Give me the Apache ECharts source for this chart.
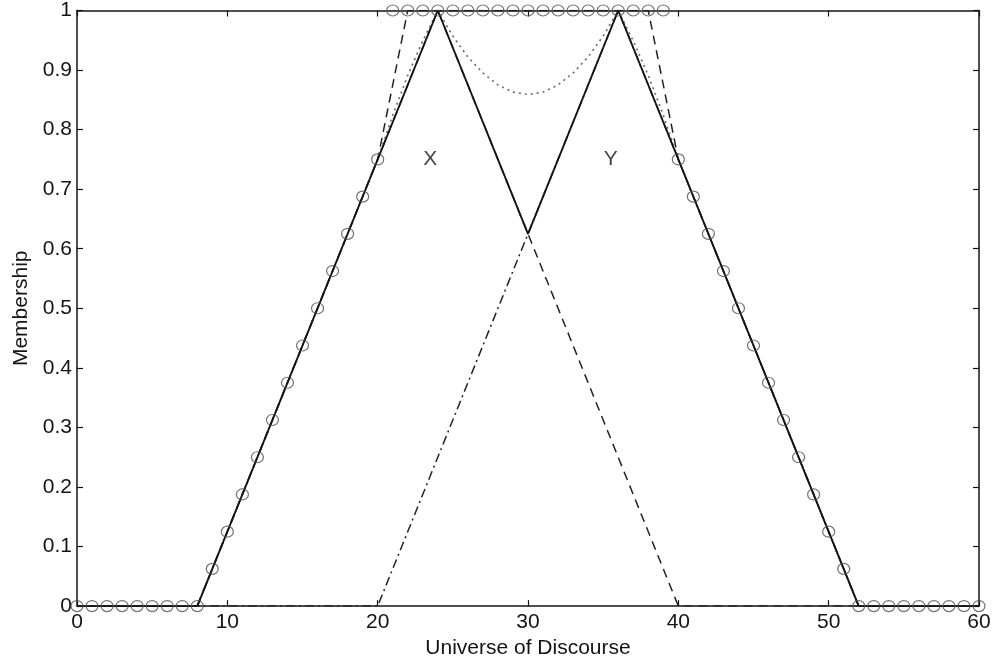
<!DOCTYPE html>
<html>
<head>
<meta charset="utf-8">
<script src="https://cdn.jsdelivr.net/npm/echarts@6/dist/echarts.min.js"></script>
<style>
  html, body { margin: 0; padding: 0; background: #ffffff; }
  #chart { width: 995px; height: 664px; }
</style>
</head>
<body>
<div id="chart"></div>
<script>
// Universe of discourse and tick labels
const xTicks = [0, 10, 20, 30, 40, 50, 60];
const yTickLabels = ['0', '0.1', '0.2', '0.3', '0.4', '0.5', '0.6', '0.7', '0.8', '0.9', '1'];

// Triangular fuzzy sets X and Y (breakpoints)
const setX = [[0, 0], [8, 0], [24, 1], [40, 0], [60, 0]];
const setY = [[0, 0], [20, 0], [36, 1], [52, 0], [60, 0]];

// Max union of X and Y
const unionMax = [[0, 0], [8, 0], [24, 1], [30, 0.625], [36, 1], [52, 0], [60, 0]];

// Bounded sum min(1, X + Y)
const boundedSum = [[0, 0], [8, 0], [20, 0.75], [22, 1], [38, 1], [40, 0.75], [52, 0], [60, 0]];

// Algebraic sum X + Y - XY
const algSumX = [0, 8, 20, 21, 22, 23, 24, 25, 26, 27, 28, 29, 30, 31, 32, 33, 34, 35, 36, 37, 38, 39, 40, 52, 60];
const algSumY = [0, 0, 0.75, 0.824, 0.891, 0.949, 1, 0.957, 0.922, 0.895, 0.875, 0.863, 0.859,
                 0.863, 0.875, 0.895, 0.922, 0.957, 1, 0.949, 0.891, 0.824, 0.75, 0, 0];

// Drastic sum sampled at integer points 0..60
const drasticX = [0, 1, 2, 3, 4, 5, 6, 7, 8, 9, 10, 11, 12, 13, 14, 15, 16, 17, 18, 19, 20,
                  21, 22, 23, 24, 25, 26, 27, 28, 29, 30, 31, 32, 33, 34, 35, 36, 37, 38, 39, 40,
                  41, 42, 43, 44, 45, 46, 47, 48, 49, 50, 51, 52, 53, 54, 55, 56, 57, 58, 59, 60];
const drasticY = [0, 0, 0, 0, 0, 0, 0, 0, 0,
                  0.0625, 0.125, 0.1875, 0.25, 0.3125, 0.375, 0.4375, 0.5, 0.5625, 0.625, 0.6875, 0.75,
                  1, 1, 1, 1, 1, 1, 1, 1, 1, 1, 1, 1, 1, 1, 1, 1, 1, 1, 1,
                  0.75, 0.6875, 0.625, 0.5625, 0.5, 0.4375, 0.375, 0.3125, 0.25, 0.1875, 0.125, 0.0625,
                  0, 0, 0, 0, 0, 0, 0, 0, 0];

// Set name labels
const setLabels = [{ name: 'X', value: [23.5, 0.75] }, { name: 'Y', value: [35.5, 0.75] }];

const FONT = '"Liberation Sans", Arial, sans-serif';
const INK = '#141414';

const zip = (xs, ys) => xs.map((x, i) => [x, ys[i]]);

const baseAxisLine = { show: true, onZero: false, lineStyle: { color: INK, width: 1.5 } };
const baseTick = { show: true, inside: true, length: 6, lineStyle: { color: INK, width: 1.2 } };

const chart = echarts.init(document.getElementById('chart'), null, { renderer: 'canvas' });

chart.setOption({
  backgroundColor: '#ffffff',
  animation: false,
  grid: { left: 77, top: 9, width: 902, height: 600, containLabel: false },
  xAxis: [
    {
      type: 'value', min: xTicks[0], max: xTicks[xTicks.length - 1], interval: 10,
      position: 'bottom',
      name: 'Universe of Discourse', nameLocation: 'middle', nameGap: 27,
      nameTextStyle: { fontFamily: FONT, fontSize: 21, color: INK },
      axisLine: baseAxisLine, axisTick: baseTick,
      axisLabel: { fontFamily: FONT, fontSize: 21, color: INK, margin: 6 },
      splitLine: { show: false }
    },
    {
      type: 'value', min: xTicks[0], max: xTicks[xTicks.length - 1], interval: 10,
      position: 'top',
      axisLine: baseAxisLine, axisTick: baseTick,
      axisLabel: { show: false }, splitLine: { show: false }
    }
  ],
  yAxis: [
    {
      type: 'value', min: 0, max: 1, interval: 0.1,
      position: 'left',
      name: 'Membership', nameLocation: 'middle', nameGap: 44,
      nameTextStyle: { fontFamily: FONT, fontSize: 21, color: INK },
      axisLine: baseAxisLine, axisTick: baseTick,
      axisLabel: {
        fontFamily: FONT, fontSize: 21, color: INK, margin: 5,
        formatter: v => yTickLabels[Math.round(v * 10)]
      },
      splitLine: { show: false }
    },
    {
      type: 'value', min: 0, max: 1, interval: 0.1,
      position: 'right',
      axisLine: baseAxisLine, axisTick: baseTick,
      axisLabel: { show: false }, splitLine: { show: false }
    }
  ],
  series: [
    {
      name: 'X', type: 'line', data: setX, symbol: 'none',
      lineStyle: { color: '#222222', width: 1.5, type: [9, 6] }, z: 2
    },
    {
      name: 'Y', type: 'line', data: setY, symbol: 'none',
      lineStyle: { color: '#222222', width: 1.5, type: [9, 4, 2, 4] }, z: 2
    },
    {
      name: 'Bounded sum', type: 'line', data: boundedSum, symbol: 'none',
      lineStyle: { color: '#222222', width: 1.5, type: [9, 6] }, z: 2
    },
    {
      name: 'Algebraic sum', type: 'line', data: zip(algSumX, algSumY), symbol: 'none',
      lineStyle: { color: '#6e6e6e', width: 1.7, type: [2, 4] }, z: 2
    },
    {
      name: 'Max', type: 'line', data: unionMax, symbol: 'none',
      lineStyle: { color: INK, width: 1.9, type: 'solid' }, z: 3
    },
    {
      name: 'Drastic sum', type: 'scatter', data: zip(drasticX, drasticY),
      symbol: 'circle', symbolSize: [12, 11],
      itemStyle: { color: 'rgba(0,0,0,0)', borderColor: '#505050', borderWidth: 1.2 }, z: 4
    },
    {
      name: 'labels', type: 'scatter', data: setLabels, symbolSize: 0,
      label: {
        show: true, position: 'inside', formatter: p => p.name,
        fontFamily: FONT, fontSize: 21, color: INK
      }, z: 5
    }
  ]
});
</script>
</body>
</html>
